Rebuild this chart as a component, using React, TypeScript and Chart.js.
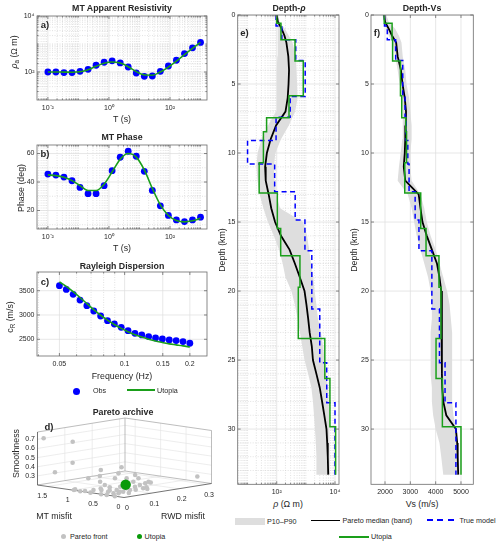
import React, { useEffect, useRef } from "react";
import { Chart, registerables } from "chart.js";

Chart.register(...registerables);

const FONT = "'Liberation Sans', Arial, Helvetica, sans-serif";
const INK = "#262626";
Chart.defaults.font.family = FONT;
Chart.defaults.font.size = 7;
Chart.defaults.color = INK;

const OBS_BLUE = "#0000ff";
const UTOPIA_GREEN = "#1a9f1a";
const BAND_GRAY = "#dedede";
const PARETO_GRAY = "#c2c2c2";

// ===== a) b) MT sounding =====
const periods = [0.01, 0.0183, 0.0336, 0.0616, 0.113, 0.207, 0.379, 0.695, 1.27, 2.34, 4.28, 7.85, 14.4, 26.4, 48.3, 88.6, 162, 298, 546, 1000];
const rhoObs = [100, 100, 95, 95, 106, 125, 174, 223, 250, 211, 151, 92, 70, 72, 106, 164, 263, 456, 730, 1135];
const rhoUtopia = [100, 100, 99, 98, 102, 120, 160, 205, 228, 208, 155, 103, 78, 77, 100, 150, 245, 420, 700, 1150];
const phaseObs = [45.6, 44.9, 43.5, 40.9, 36.2, 31.8, 31.8, 37.4, 48.0, 57.4, 61.6, 58.1, 47.5, 34.1, 23.3, 16.5, 13.4, 12.2, 13.4, 15.3];
const phaseUtopia = [45, 44.5, 43.3, 41, 37.5, 34, 34, 38.5, 47, 56, 60, 57.5, 48.5, 35.5, 24, 16.5, 13, 12, 12.8, 14.5];

// ===== c) Rayleigh dispersion =====
const freqs = [0.05, 0.05379, 0.05786, 0.06224, 0.06695, 0.07202, 0.07747, 0.08334, 0.08965, 0.09644, 0.1037, 0.1116, 0.12, 0.1291, 0.1389, 0.1494, 0.1607, 0.1729, 0.186, 0.2];
const cObs = [3603, 3527, 3425, 3308, 3192, 3082, 2979, 2884, 2815, 2747, 2678, 2623, 2589, 2555, 2527, 2507, 2486, 2473, 2452, 2418];
const cUtopia = [3680, 3590, 3480, 3360, 3235, 3110, 2995, 2895, 2805, 2725, 2655, 2595, 2545, 2500, 2465, 2435, 2405, 2385, 2365, 2340];

// ===== d) Pareto archive =====
const paretoMT = [1.59, 1.18, 1.3, 1.4, 0.01, 0.5, 0.95, 0.9, 1.05, 0.91, 0.85, 0.86, 1.0, 0.82, 0.74, 0.6, 0.42, 0.26, 0.15, 0.145, 0.19, 0.29, 0.35, 0.4, 0.41, 0.22, 0.51, 0.25, 0.77, 0.63, 0.45, 0.66, 0.34, 0.18, 0.44, 0.62, 0.86, 0.38, 1.03, 0.63, 0.5, 0.3, 0.55, 0.7, 0.2, 0.33, 0.12, 0.45, 0.28, 0.08];
const paretoRWD = [0.002, 0.032, 0.054, 0.008, 0.27, 0.084, 0.092, 0.037, 0.107, 0.082, 0.138, 0.127, 0.003, 0.01, 0.026, 0.029, 0.02, 0.01, 0.008, 0.024, 0.057, 0.094, 0.123, 0.152, 0.166, 0.111, 0.129, 0.129, 0.073, 0.065, 0.0, 0.0, 0.0, 0.0, 0.068, 0.125, 0.0, 0.044, 0.013, 0.158, 0.146, 0.04, 0.05, 0.045, 0.08, 0.07, 0.04, 0.1, 0.15, 0.1];
const paretoSmooth = [0.72, 0.7, 0.45, 0.36, 0.3, 0.45, 0.38, 0.32, 0.3, 0.26, 0.33, 0.28, 0.2, 0.2, 0.21, 0.22, 0.22, 0.22, 0.23, 0.24, 0.24, 0.25, 0.25, 0.25, 0.26, 0.23, 0.27, 0.23, 0.24, 0.23, 0.2, 0.2, 0.2, 0.2, 0.25, 0.3, 0.2, 0.23, 0.2, 0.32, 0.3, 0.22, 0.21, 0.22, 0.23, 0.24, 0.22, 0.26, 0.27, 0.24];
const utopiaMT = [0.22];
const utopiaRWD = [0.047];
const utopiaSmooth = [0.3];

// ===== e) f) depth profiles =====
const utopiaBounds = [0, 0.6, 1.8, 3.33, 5.85, 7.44, 8.45, 10.7, 12.9, 15.46, 17.44, 19.73, 23.43, 26.33, 29.83, 33.3];
const utopiaRho = [100, 140, 424, 815, 264, 45, 35, 25, 105, 137, 627, 550, 4470, 6700, 10500];
const utopiaVs = [1970, 2280, 2300, 2610, 2660, 2820, 2850, 2780, 3410, 3620, 4130, 4210, 4015, 4265, 5000];
const trueBounds = [0, 0.8, 1.8, 3.3, 5.9, 7.4, 9.1, 10.8, 12.8, 14.86, 17.08, 21.3, 25.2, 28.1, 33.3];
const trueRho = [95, 150, 450, 950, 290, 95, 10, 85, 430, 930, 1600, 3000, 5200, 10000];
const trueVs = [1980, 2090, 2420, 2700, 2790, 2830, 2900, 2950, 3190, 3340, 3850, 4150, 4370, 4800];
const bandDepth = [0, 0.5, 1, 1.5, 2, 3, 4, 5, 6, 7, 8, 9, 10, 11, 12, 13, 14, 15, 16, 17, 18, 19, 20, 21, 22, 23, 24, 25, 26, 27, 28, 29, 30, 31, 32, 33.3];
const medRho = [100, 110, 148, 185, 215, 250, 265, 255, 238, 200, 95, 62, 46, 40, 42, 53, 65, 88, 140, 275, 420, 620, 900, 1050, 1200, 1350, 1600, 1750, 2300, 3000, 3600, 4300, 5100, 5400, 5650, 5850];
const lowRho = [85, 90, 105, 110, 110, 105, 100, 100, 100, 95, 50, 30, 22, 20, 22, 26, 35, 50, 80, 120, 160, 200, 320, 420, 520, 630, 750, 900, 1200, 1550, 1750, 1900, 2050, 2200, 2300, 2400];
const highRho = [115, 125, 190, 260, 350, 450, 480, 500, 520, 430, 260, 140, 90, 80, 85, 95, 130, 800, 1100, 1300, 1500, 1800, 2000, 2300, 2600, 3300, 3900, 4400, 5000, 5700, 6000, 6300, 6700, 6700, 6700, 6700];
const medVs = [1970, 2000, 2150, 2280, 2440, 2500, 2630, 2690, 2780, 2830, 2820, 2800, 2780, 2740, 2800, 3330, 3400, 3480, 3650, 3850, 4050, 4150, 4220, 4240, 4250, 4250, 4240, 4250, 4250, 4260, 4300, 4420, 4800, 4850, 4870, 4890];
const lowVs = [1900, 1950, 2050, 2150, 2300, 2400, 2500, 2580, 2650, 2700, 2700, 2680, 2620, 2550, 2500, 2900, 3050, 3150, 3250, 3400, 3550, 3700, 3800, 3850, 3850, 3800, 3800, 3800, 3800, 3850, 3850, 3900, 4000, 4150, 4220, 4300];
const highVs = [2050, 2150, 2400, 2550, 2650, 2700, 2800, 2850, 2950, 3000, 3050, 3050, 3000, 3000, 3050, 3400, 3550, 3650, 3800, 4000, 4150, 4300, 4450, 4550, 4600, 4650, 4650, 4650, 4650, 4650, 4650, 4700, 4800, 4880, 4920, 4950];

// ===== tick labels =====
const periodTicks = [0.01, 1, 100];
const periodTickLabels = ["10⁻²", "10⁰", "10²"];
const rhoaTicks = [100, 10000];
const rhoaTickLabels = ["10²", "10⁴"];
const phaseTicks = [20, 40, 60];
const phaseTickLabels = ["20", "40", "60"];
const freqTicks = [0.05, 0.1, 0.15, 0.2];
const freqTickLabels = ["0.05", "0.1", "0.15", "0.2"];
const cTicks = [2500, 3000, 3500];
const cTickLabels = ["2500", "3000", "3500"];
const depthTicks = [0, 5, 10, 15, 20, 25, 30];
const depthTickLabels = ["0", "5", "10", "15", "20", "25", "30"];
const rhoTicks = [100, 10000];
const rhoTickLabels = ["10²", "10⁴"];
const vsTicks = [2000, 3000, 4000, 5000];
const vsTickLabels = ["2000", "3000", "4000", "5000"];
const mtTicks = [0, 0.5, 1, 1.5];
const mtTickLabels = ["0", "0.5", "1", "1.5"];
const rwdTicks = [0, 0.1, 0.2, 0.3];
const rwdTickLabels = ["0", "0.1", "0.2", "0.3"];
const smoothTicks = [0.3, 0.4, 0.5, 0.6, 0.7];
const smoothTickLabels = ["0.3", "0.4", "0.5", "0.6", "0.7"];

// ---------- helpers ----------
function logMinors(min: number, max: number, majors: number[]) {
  const out: number[] = [];
  for (let e = Math.floor(Math.log10(min)); e <= Math.ceil(Math.log10(max)); e++) {
    for (let m = 1; m < 10; m++) {
      const v = m * Math.pow(10, e);
      if (v > min && v < max && !majors.some((t) => Math.abs(t - v) / v < 1e-6)) out.push(v);
    }
  }
  return out;
}
function linMinors(min: number, max: number, step: number, majors: number[]) {
  const out: number[] = [];
  for (let v = Math.ceil(min / step) * step; v < max; v += step) {
    if (!majors.some((t) => Math.abs(t - v) < 1e-9)) out.push(v);
  }
  return out;
}

interface Axis {
  type: "linear" | "logarithmic";
  min: number;
  max: number;
  ticks: number[];
  labels: string[];
  minor: number[];
  minorGrid: boolean;
  pad: number;
  reverse?: boolean;
}
interface Box { L: number; R: number; T: number; B: number; cl: number; ct: number; cw: number; ch: number; }

function decoPlugin(xa: Axis, ya: Axis) {
  return {
    id: "deco",
    beforeDatasetsDraw(chart: any) {
      const { ctx, chartArea: a } = chart;
      const sx = chart.scales.x, sy = chart.scales.y;
      ctx.save();
      ctx.beginPath();
      ctx.rect(a.left, a.top, a.right - a.left, a.bottom - a.top);
      ctx.clip();
      const vl = (v: number) => { const x = sx.getPixelForValue(v); ctx.beginPath(); ctx.moveTo(x, a.top); ctx.lineTo(x, a.bottom); ctx.stroke(); };
      const hl = (v: number) => { const y = sy.getPixelForValue(v); ctx.beginPath(); ctx.moveTo(a.left, y); ctx.lineTo(a.right, y); ctx.stroke(); };
      ctx.lineWidth = 0.6;
      ctx.strokeStyle = "#cfcfcf";
      ctx.setLineDash([1, 1.5]);
      if (xa.minorGrid) xa.minor.forEach(vl);
      if (ya.minorGrid) ya.minor.forEach(hl);
      ctx.setLineDash([]);
      ctx.strokeStyle = "#dcdcdc";
      ctx.lineWidth = 0.7;
      xa.ticks.forEach(vl);
      ya.ticks.forEach(hl);
      ctx.restore();
    },
    afterDatasetsDraw(chart: any) {
      const { ctx, chartArea: a } = chart;
      const sx = chart.scales.x, sy = chart.scales.y;
      ctx.save();
      ctx.strokeStyle = "#6b6b6b";
      ctx.lineWidth = 0.8;
      ctx.strokeRect(a.left, a.top, a.right - a.left, a.bottom - a.top);
      const tx = (v: number, len: number) => {
        const x = sx.getPixelForValue(v);
        ctx.beginPath(); ctx.moveTo(x, a.bottom); ctx.lineTo(x, a.bottom - len);
        ctx.moveTo(x, a.top); ctx.lineTo(x, a.top + len); ctx.stroke();
      };
      const ty = (v: number, len: number) => {
        const y = sy.getPixelForValue(v);
        ctx.beginPath(); ctx.moveTo(a.left, y); ctx.lineTo(a.left + len, y);
        ctx.moveTo(a.right, y); ctx.lineTo(a.right - len, y); ctx.stroke();
      };
      xa.ticks.forEach((v) => tx(v, 3));
      ya.ticks.forEach((v) => ty(v, 3));
      if (xa.type === "logarithmic") xa.minor.forEach((v) => tx(v, 1.6));
      if (ya.type === "logarithmic") ya.minor.forEach((v) => ty(v, 1.6));
      ctx.restore();
    },
  };
}

function axisOpts(a: Axis, fit: (s: any) => void) {
  return {
    type: a.type,
    min: a.min,
    max: a.max,
    reverse: !!a.reverse,
    afterBuildTicks: (s: any) => { s.ticks = a.ticks.map((v) => ({ value: v })); },
    afterFit: fit,
    ticks: {
      autoSkip: false,
      maxRotation: 0,
      minRotation: 0,
      padding: a.pad,
      color: INK,
      font: { size: 7, family: FONT },
      callback: (_v: any, i: number) => a.labels[i],
    },
    grid: { display: false, drawTicks: false },
    border: { display: false },
  };
}

function makeCfg(box: Box, xa: Axis, ya: Axis, datasets: any[]): any {
  const yW = box.L - box.cl;
  const xH = box.ct + box.ch - box.B;
  return {
    type: "line",
    data: { datasets },
    options: {
      animation: false,
      responsive: false,
      events: [],
      layout: { autoPadding: false, padding: { top: box.T - box.ct, right: box.cl + box.cw - box.R, left: 0, bottom: 0 } },
      plugins: { legend: { display: false }, tooltip: { enabled: false } },
      scales: {
        x: axisOpts(xa, (s: any) => { s.height = xH; }),
        y: axisOpts(ya, (s: any) => { s.width = yW; }),
      },
    },
    plugins: [decoPlugin(xa, ya)],
  };
}

const xy = (xs: number[], ys: number[]) => xs.map((x, i) => ({ x, y: ys[i] }));
const steps = (bounds: number[], vals: number[]) => bounds.map((d, i) => ({ x: vals[Math.min(i, vals.length - 1)], y: d }));
const bandShape = (depth: number[], lo: number[], hi: number[]) => [
  ...depth.map((d, i) => ({ x: hi[i], y: d })),
  ...depth.map((d, i) => ({ x: lo[i], y: d })).reverse(),
];

const fitLine = (data: any[]) => ({ data, borderColor: UTOPIA_GREEN, borderWidth: 1.6, pointRadius: 0, fill: false, cubicInterpolationMode: "monotone" });
const obsDots = (data: any[]) => ({ data, showLine: false, pointRadius: 3.4, pointBackgroundColor: OBS_BLUE, pointBorderWidth: 0, borderColor: OBS_BLUE, backgroundColor: OBS_BLUE });

// ---------- panel geometry ----------
const boxA: Box = { L: 37, R: 207, T: 16, B: 100, cl: 0, ct: 8, cw: 215, ch: 106 };
const boxB: Box = { L: 37, R: 207, T: 145, B: 229, cl: 0, ct: 137, cw: 215, ch: 106 };
const boxC: Box = { L: 37, R: 207, T: 272, B: 356, cl: 0, ct: 264, cw: 215, ch: 106 };
const boxE: Box = { L: 237.7, R: 339, T: 15, B: 484.3, cl: 225, ct: 7, cw: 124, ch: 491 };
const boxF: Box = { L: 371, R: 473.3, T: 15, B: 484.3, cl: 358, ct: 7, cw: 125, ch: 491 };
const boxD = { cl: 0, ct: 400, cw: 215, ch: 124 };

const periodAxis: Axis = { type: "logarithmic", min: 0.0044, max: 1630, ticks: periodTicks, labels: periodTickLabels, minor: logMinors(0.0044, 1630, periodTicks), minorGrid: true, pad: 3.5 };

function cfgA() {
  const ya: Axis = { type: "logarithmic", min: 10, max: 10000, ticks: rhoaTicks, labels: rhoaTickLabels, minor: logMinors(10, 10000, rhoaTicks), minorGrid: true, pad: 2.5 };
  return makeCfg(boxA, periodAxis, ya, [fitLine(xy(periods, rhoUtopia)), obsDots(xy(periods, rhoObs))]);
}
function cfgB() {
  const ya: Axis = { type: "linear", min: 7, max: 66, ticks: phaseTicks, labels: phaseTickLabels, minor: [10, 30, 50], minorGrid: true, pad: 2.5 };
  return makeCfg(boxB, periodAxis, ya, [fitLine(xy(periods, phaseUtopia)), obsDots(xy(periods, phaseObs))]);
}
function cfgC() {
  const xa: Axis = { type: "logarithmic", min: 0.0394, max: 0.24, ticks: freqTicks, labels: freqTickLabels, minor: [0.04, 0.06, 0.07, 0.08, 0.09], minorGrid: true, pad: 3.5 };
  const ya: Axis = { type: "linear", min: 2156, max: 3885, ticks: cTicks, labels: cTickLabels, minor: [], minorGrid: false, pad: 2.5 };
  return makeCfg(boxC, xa, ya, [fitLine(xy(freqs, cUtopia)), obsDots(xy(freqs, cObs))]);
}
function depthAxis(minorGrid: boolean): Axis {
  return { type: "linear", min: 0, max: 34, ticks: depthTicks, labels: depthTickLabels, minor: linMinors(0, 34, 1, depthTicks), minorGrid, pad: 2.2, reverse: true };
}
function profileSets(uVals: number[], tVals: number[], med: number[], lo: number[], hi: number[]) {
  return [
    { data: steps(utopiaBounds, uVals), stepped: "after", borderColor: UTOPIA_GREEN, borderWidth: 1.5, pointRadius: 0, fill: false },
    { data: steps(trueBounds, tVals), stepped: "after", borderColor: OBS_BLUE, borderDash: [5, 3.5], borderWidth: 1.5, pointRadius: 0, fill: false },
    { data: xy(med, bandDepth), borderColor: "#000000", borderWidth: 1.8, pointRadius: 0, fill: false },
    { data: bandShape(bandDepth, lo, hi), fill: "shape", backgroundColor: BAND_GRAY, borderColor: BAND_GRAY, borderWidth: 0, pointRadius: 0 },
  ];
}
function cfgE() {
  const xa: Axis = { type: "logarithmic", min: 4.59, max: 13710, ticks: rhoTicks, labels: rhoTickLabels, minor: logMinors(4.59, 13710, rhoTicks), minorGrid: true, pad: 3.5 };
  return makeCfg(boxE, xa, depthAxis(true), profileSets(utopiaRho, trueRho, medRho, lowRho, highRho));
}
function cfgF() {
  const xa: Axis = { type: "linear", min: 1447, max: 5486, ticks: vsTicks, labels: vsTickLabels, minor: [], minorGrid: false, pad: 3.5 };
  return makeCfg(boxF, xa, depthAxis(false), profileSets(utopiaVs, trueVs, medVs, lowVs, highVs));
}

// 3-D view of the Pareto archive (orthographic projection onto page pixels)
const D3 = { fx: 124, fy: 497.5, ax: -86.5, ay: -12.5, bx: 87.5, by: -14, hz: 53, mtMax: 1.7, rwdMax: 0.32, sMin: 0.2, sMax: 0.78 };
function proj(mt: number, rwd: number, s: number) {
  const a = mt / D3.mtMax, b = rwd / D3.rwdMax, c = (s - D3.sMin) / (D3.sMax - D3.sMin);
  return { x: D3.fx + a * D3.ax + b * D3.bx, y: D3.fy + a * D3.ay + b * D3.by - c * D3.hz };
}

const box3dPlugin = {
  id: "box3d",
  beforeDatasetsDraw(chart: any) {
    const { ctx } = chart;
    const sx = chart.scales.x, sy = chart.scales.y;
    const at = (x: number, y: number) => [sx.getPixelForValue(x), sy.getPixelForValue(y)];
    const P = (m: number, r: number, s: number) => { const q = proj(m, r, s); return at(q.x, q.y); };
    const seg = (p: number[], q: number[]) => { ctx.beginPath(); ctx.moveTo(p[0], p[1]); ctx.lineTo(q[0], q[1]); ctx.stroke(); };
    const { mtMax, rwdMax, sMin, sMax } = D3;
    ctx.save();
    ctx.lineWidth = 0.6;
    ctx.strokeStyle = "#e0e0e0";
    mtTicks.forEach((m) => { if (m > 0) seg(P(m, 0, sMin), P(m, rwdMax, sMin)); });
    rwdTicks.forEach((r) => { if (r > 0) seg(P(0, r, sMin), P(mtMax, r, sMin)); });
    rwdTicks.forEach((r) => { if (r > 0) seg(P(mtMax, r, sMin), P(mtMax, r, sMax)); });
    smoothTicks.forEach((s) => seg(P(mtMax, 0, s), P(mtMax, rwdMax, s)));
    mtTicks.forEach((m) => { if (m > 0) seg(P(m, rwdMax, sMin), P(m, rwdMax, sMax)); });
    smoothTicks.forEach((s) => seg(P(0, rwdMax, s), P(mtMax, rwdMax, s)));
    ctx.strokeStyle = "#a0a0a0";
    ctx.lineWidth = 0.7;
    seg(P(mtMax, 0, sMax), P(mtMax, rwdMax, sMax));
    seg(P(mtMax, rwdMax, sMax), P(0, rwdMax, sMax));
    seg(P(mtMax, rwdMax, sMin), P(mtMax, rwdMax, sMax));
    seg(P(0, rwdMax, sMin), P(0, rwdMax, sMax));
    seg(P(mtMax, 0, sMin), P(mtMax, rwdMax, sMin));
    seg(P(mtMax, rwdMax, sMin), P(0, rwdMax, sMin));
    ctx.strokeStyle = "#505050";
    ctx.lineWidth = 0.8;
    seg(P(0, 0, sMin), P(mtMax, 0, sMin));
    seg(P(0, 0, sMin), P(0, rwdMax, sMin));
    seg(P(mtMax, 0, sMin), P(mtMax, 0, sMax));
    ctx.fillStyle = INK;
    ctx.font = `7px ${FONT}`;
    ctx.textBaseline = "middle";
    ctx.textAlign = "right";
    smoothTicks.forEach((s, i) => { const p = P(mtMax, 0, s); ctx.fillText(smoothTickLabels[i], p[0] - 2.5, p[1]); });
    ctx.textAlign = "center";
    mtTicks.forEach((m, i) => { const p = P(m, 0, sMin); ctx.fillText(mtTickLabels[i], p[0] - 5.5, p[1] + 10); });
    rwdTicks.forEach((r, i) => { const p = P(0, r, sMin); ctx.fillText(rwdTickLabels[i], p[0] + 3, p[1] + 10.5); });
    ctx.font = `8.8px ${FONT}`;
    let q = at(54, 517);
    ctx.fillText("MT misfit", q[0], q[1]);
    q = at(183, 517);
    ctx.fillText("RWD misfit", q[0], q[1]);
    q = at(17, 453.5);
    ctx.save();
    ctx.translate(q[0], q[1]);
    ctx.rotate(-Math.PI / 2);
    ctx.fillText("Smoothness", 0, 0);
    ctx.restore();
    ctx.restore();
  },
};

function cfgD(): any {
  return {
    type: "scatter",
    data: {
      datasets: [
        { label: "Utopia", data: utopiaMT.map((m, i) => proj(m, utopiaRWD[i], utopiaSmooth[i])), pointRadius: 5.2, pointBackgroundColor: "#0a9a0a", backgroundColor: "#0a9a0a", pointBorderWidth: 0, clip: false },
        { label: "Pareto front", data: paretoMT.map((m, i) => proj(m, paretoRWD[i], paretoSmooth[i])), pointRadius: 2.3, pointBackgroundColor: PARETO_GRAY, backgroundColor: PARETO_GRAY, pointBorderWidth: 0, clip: false },
      ],
    },
    options: {
      animation: false,
      responsive: false,
      events: [],
      layout: { autoPadding: false, padding: 0 },
      plugins: { legend: { display: false }, tooltip: { enabled: false } },
      scales: {
        x: { type: "linear", min: boxD.cl, max: boxD.cl + boxD.cw, display: false },
        y: { type: "linear", min: boxD.ct, max: boxD.ct + boxD.ch, reverse: true, display: false },
      },
    },
    plugins: [box3dPlugin],
  };
}

// ---------- text overlay ----------
function Txt(props: { x: number; y: number; size?: number; bold?: boolean; align?: string; rot?: boolean; children: any }) {
  const { x, y, size = 7, bold = false, align = "center", rot = false, children } = props;
  const tx = align === "left" ? "0" : align === "right" ? "-100%" : "-50%";
  return (
    <div
      style={{
        position: "absolute",
        left: x,
        top: y,
        fontSize: size,
        fontWeight: bold ? 700 : 400,
        whiteSpace: "nowrap",
        lineHeight: 1,
        color: INK,
        transform: `translate(${tx}, -50%)${rot ? " rotate(-90deg)" : ""}`,
      }}
    >
      {children}
    </div>
  );
}
const Sub = ({ children }: any) => <span style={{ fontSize: "0.72em", position: "relative", top: "0.28em" }}>{children}</span>;

function Canvas({ r, b }: { r: any; b: { cl: number; ct: number; cw: number; ch: number } }) {
  return <canvas ref={r} width={b.cw} height={b.ch} style={{ position: "absolute", left: b.cl, top: b.ct, width: b.cw, height: b.ch }} />;
}

export default function App() {
  const ra = useRef<HTMLCanvasElement>(null);
  const rb = useRef<HTMLCanvasElement>(null);
  const rc = useRef<HTMLCanvasElement>(null);
  const rd = useRef<HTMLCanvasElement>(null);
  const re = useRef<HTMLCanvasElement>(null);
  const rf = useRef<HTMLCanvasElement>(null);

  useEffect(() => {
    const charts: Chart[] = [];
    charts.push(new Chart(ra.current!, cfgA()));
    charts.push(new Chart(rb.current!, cfgB()));
    charts.push(new Chart(rc.current!, cfgC()));
    charts.push(new Chart(rd.current!, cfgD()));
    charts.push(new Chart(re.current!, cfgE()));
    charts.push(new Chart(rf.current!, cfgF()));
    return () => charts.forEach((c) => c.destroy());
  }, []);

  const T = 8.8;
  const L = 7.2;
  return (
    <div style={{ position: "absolute", left: 0, top: 0, width: 500, height: 546, background: "#ffffff", fontFamily: FONT, overflow: "hidden" }}>
      <Canvas r={ra} b={boxA} />
      <Canvas r={rb} b={boxB} />
      <Canvas r={rc} b={boxC} />
      <Canvas r={rd} b={boxD} />
      <Canvas r={re} b={boxE} />
      <Canvas r={rf} b={boxF} />

      {/* titles */}
      <Txt x={122} y={8} size={T} bold>MT Apparent Resistivity</Txt>
      <Txt x={122} y={136.5} size={T} bold>MT Phase</Txt>
      <Txt x={122} y={265.5} size={T} bold>Rayleigh Dispersion</Txt>
      <Txt x={123} y={411.5} size={T} bold>Pareto archive</Txt>
      <Txt x={289} y={8} size={T} bold>Depth-<i>ρ</i></Txt>
      <Txt x={422} y={8} size={T} bold>Depth-Vs</Txt>

      {/* panel letters */}
      <Txt x={45} y={24.5} size={9.5} bold>a)</Txt>
      <Txt x={45} y={154} size={9.5} bold>b)</Txt>
      <Txt x={45} y={281.5} size={9.5} bold>c)</Txt>
      <Txt x={49} y={427} size={9.5} bold>d)</Txt>
      <Txt x={244.5} y={33} size={9.5} bold>e)</Txt>
      <Txt x={377} y={33} size={9.5} bold>f)</Txt>

      {/* axis titles */}
      <Txt x={13.5} y={52} size={T} rot><i>ρ</i><Sub>a</Sub> (Ω m)</Txt>
      <Txt x={122} y={118.5} size={T}>T (s)</Txt>
      <Txt x={21} y={188} size={T} rot>Phase (deg)</Txt>
      <Txt x={122} y={248} size={T}>T (s)</Txt>
      <Txt x={10} y={317} size={T} rot>c<Sub>R</Sub> (m/s)</Txt>
      <Txt x={122} y={376} size={T}>Frequency (Hz)</Txt>
      <Txt x={221.5} y={250} size={T} rot>Depth (km)</Txt>
      <Txt x={354} y={250} size={T} rot>Depth (km)</Txt>
      <Txt x={288} y={504} size={T}><i>ρ</i> (Ω m)</Txt>
      <Txt x={422} y={504} size={T}>Vs (m/s)</Txt>

      {/* legend Obs / Utopia */}
      <div style={{ position: "absolute", left: 72.5, top: 387.7, width: 7, height: 7, borderRadius: "50%", background: OBS_BLUE }} />
      <Txt x={93} y={391} size={L} align="left">Obs</Txt>
      <div style={{ position: "absolute", left: 127, top: 389.4, width: 28, height: 1.6, background: UTOPIA_GREEN }} />
      <Txt x={157} y={391} size={L} align="left">Utopia</Txt>

      {/* legend Pareto */}
      <div style={{ position: "absolute", left: 60.6, top: 534, width: 5.4, height: 5.4, borderRadius: "50%", background: PARETO_GRAY }} />
      <Txt x={70} y={537} size={L} align="left">Pareto front</Txt>
      <div style={{ position: "absolute", left: 136.6, top: 534, width: 5.4, height: 5.4, borderRadius: "50%", background: "#0a9a0a" }} />
      <Txt x={144.5} y={537} size={L} align="left">Utopia</Txt>

      {/* legend depth profiles */}
      <div style={{ position: "absolute", left: 235, top: 518, width: 29.5, height: 6.5, background: BAND_GRAY }} />
      <Txt x={267} y={521.7} size={L} align="left">P10–P90</Txt>
      <div style={{ position: "absolute", left: 311, top: 519.5, width: 29, height: 1.8, background: "#000000" }} />
      <Txt x={342.5} y={521.2} size={L} align="left">Pareto median (band)</Txt>
      <div style={{ position: "absolute", left: 427, top: 519.4, width: 30, height: 1.6, background: `repeating-linear-gradient(90deg, ${OBS_BLUE} 0px, ${OBS_BLUE} 6px, transparent 6px, transparent 10.5px)` }} />
      <Txt x={459.5} y={521.2} size={L} align="left">True model</Txt>
      <div style={{ position: "absolute", left: 339, top: 536, width: 29.5, height: 1.6, background: UTOPIA_GREEN }} />
      <Txt x={371} y={537} size={L} align="left">Utopia</Txt>
    </div>
  );
}
